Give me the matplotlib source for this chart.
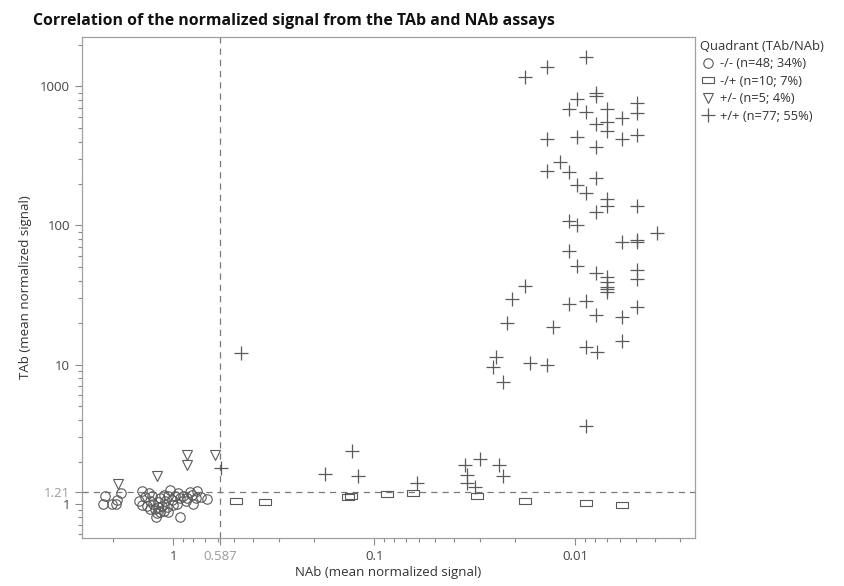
import numpy as np
import matplotlib
matplotlib.use("Agg")
import matplotlib.pyplot as plt
from matplotlib.path import Path
from matplotlib.ticker import FixedLocator, LogLocator, NullFormatter

plt.rcParams['font.family'] = ['Open Sans', 'DejaVu Sans']

# -/- quadrant (circles)
nab_nn = [2.19, 2.23, 2.03, 1.93, 1.83, 1.91, 1.44, 1.48, 1.38, 1.33, 1.31, 1.26,
          1.23, 1.21, 1.22, 1.16, 1.14, 1.12, 1.10, 1.07, 1.04, 1.02, 0.981, 0.962,
          0.926, 0.892, 0.865, 0.926, 0.810, 0.795, 0.771, 0.760, 0.731, 0.682, 1.28, 1.36,
          1.19, 1.08, 1.00, 0.944, 1.06, 1.16, 1.20, 1.31, 1.12, 0.852, 0.826, 1.44]
tab_nn = [1.14, 1.00, 1.00, 0.987, 1.20, 1.06, 1.23, 1.04, 1.12, 1.20, 1.04, 0.987,
          0.913, 0.850, 0.804, 1.09, 0.964, 0.883, 1.04, 1.14, 1.25, 1.06, 1.14, 1.00,
          1.09, 1.14, 1.04, 0.804, 1.16, 1.00, 1.09, 1.23, 1.12, 1.08, 1.14, 0.964,
          1.02, 0.948, 0.975, 1.20, 0.873, 0.873, 0.948, 0.913, 1.16, 1.10, 1.22, 0.975]

# -/+ quadrant (rectangles)
nab_np = [0.488, 0.350, 0.136, 0.131, 0.0868, 0.0644, 0.0307, 0.0178, 0.00887, 0.00588]
tab_np = [1.047, 1.030, 1.119, 1.132, 1.170, 1.184, 1.132, 1.047, 1.003, 0.975]

# +/- quadrant (triangles)
nab_pn = [1.877, 1.201, 0.852, 0.852, 0.620]
tab_pn = [1.381, 1.577, 2.233, 1.892, 2.233]

# +/+ quadrant (plus)
nab_pp = [0.00885, 0.0138, 0.0178, 0.00789, 0.00789, 0.00984, 0.00492, 0.0108, 0.00885,
          0.00693, 0.00492, 0.00588, 0.00789, 0.00693, 0.00693, 0.00984, 0.0138, 0.00588,
          0.00492, 0.00789, 0.0119, 0.0138, 0.0108, 0.00789, 0.00984, 0.00885, 0.00693,
          0.00693, 0.00789, 0.00492, 0.0108, 0.00977, 0.00394, 0.00588, 0.00492, 0.00492,
          0.0108, 0.00977, 0.00789, 0.00693, 0.00693, 0.00693, 0.00693, 0.00492, 0.00492,
          0.0178, 0.0207, 0.0108, 0.00885, 0.00789, 0.00588, 0.00492, 0.0218, 0.0129,
          0.00588, 0.00890, 0.00783, 0.0248, 0.0258, 0.0168, 0.0139, 0.0228, 0.00885,
          0.462, 0.581, 0.1295, 0.176, 0.121, 0.0615, 0.0354, 0.0298, 0.0239, 0.0228,
          0.0347, 0.0347, 0.0316, 0.00693]
tab_pp = [1622, 1375, 1165, 902, 855, 809, 764, 685, 659,
          685, 641, 590, 537, 558, 481, 435, 417, 417,
          448, 365, 288, 248, 244, 219, 196, 172, 154,
          137, 126, 138, 108, 101, 88.8, 76.4, 78.7, 76.0,
          65.9, 51.1, 45.8, 42.4, 39.4, 36.3, 33.4, 47.8, 41.0,
          36.7, 29.5, 27.2, 28.8, 22.7, 21.9, 26.1, 19.8, 18.5,
          14.8, 13.3, 12.4, 11.4, 9.55, 10.2, 9.92, 7.52, 3.61,
          12.2, 1.79, 2.40, 1.63, 1.58, 1.40, 1.89, 2.08, 1.89, 1.58,
          1.60, 1.41, 1.31, 34.8]

labels = ["-/- (n=48; 34%)", "-/+ (n=10; 7%)", "+/- (n=5; 4%)", "+/+ (n=77; 55%)"]
nab_cut = 0.587
tab_cut = 1.21

# wide rectangle marker like the original
rect = Path([(-1, -0.55), (1, -0.55), (1, 0.55), (-1, 0.55), (-1, -0.55)],
            [Path.MOVETO, Path.LINETO, Path.LINETO, Path.LINETO, Path.CLOSEPOLY])

mc = "#5a5a5a"
fig = plt.figure(figsize=(8.45, 5.86), dpi=100)
ax = fig.add_axes([0.0967, 0.0819, 0.7258, 0.855])

ax.plot(nab_nn, tab_nn, "o", ms=6.8, mfc="none", mec=mc, mew=0.8, ls="none", label=labels[0])
ax.plot(nab_np, tab_np, marker=rect, ms=9, mfc="none", mec=mc, mew=0.8, ls="none", label=labels[1])
ax.plot(nab_pn, tab_pn, "v", ms=7.8, mfc="none", mec=mc, mew=0.8, ls="none", label=labels[2])
ax.plot(nab_pp, tab_pp, "+", ms=9.5, mec=mc, mew=0.9, ls="none", label=labels[3])

ax.axvline(nab_cut, color="#7a7a7a", lw=0.9, ls=(0, (5, 4)), zorder=0)
ax.axhline(tab_cut, color="#7a7a7a", lw=0.9, ls=(0, (5, 4)), zorder=0)

ax.set_xscale("log")
ax.set_yscale("log")
ax.set_xlim(2.86, 0.00254)
ax.set_ylim(0.565, 2270)

tick_col = "#444444"
ax.xaxis.set_major_locator(FixedLocator([1, nab_cut, 0.1, 0.01]))
ax.set_xticklabels(["1", "0.587", "0.1", "0.01"])
ax.yaxis.set_major_locator(FixedLocator([1, tab_cut, 10, 100, 1000]))
ax.set_yticklabels(["1", "1.21", "10", "100", "1000"])
ax.xaxis.set_minor_locator(LogLocator(base=10, subs=np.arange(2, 10)))
ax.yaxis.set_minor_locator(LogLocator(base=10, subs=np.arange(2, 10)))
ax.xaxis.set_minor_formatter(NullFormatter())
ax.yaxis.set_minor_formatter(NullFormatter())
ax.tick_params(which="major", length=5, width=0.8, color="#8a8a8a", labelsize=9.5, labelcolor=tick_col)
ax.tick_params(which="minor", length=3, width=0.8, color="#8a8a8a")
ax.get_xticklabels()[1].set_color("#9a9a9a")
ax.get_yticklabels()[1].set_color("#9a9a9a")

for s in ax.spines.values():
    s.set_color("#a0a0a0")
    s.set_linewidth(0.9)

ax.set_xlabel("NAb (mean normalized signal)", fontsize=9.5, color="#333333", labelpad=2)
ax.set_ylabel("TAb (mean normalized signal)", fontsize=9.5, color="#333333", labelpad=6)
fig.text(0.039, 0.965, "Correlation of the normalized signal from the TAb and NAb assays",
         fontsize=11.4, fontweight="bold", color="#111111", va="center", ha="left")

leg = fig.legend(loc="upper left", bbox_to_anchor=(0.815, 0.952), frameon=False,
                 title="Quadrant (TAb/NAb)", fontsize=9.3, title_fontsize=9.4,
                 handletextpad=0.3, handlelength=1.2, labelspacing=0.35,
                 alignment="left", labelcolor="#333333")
leg.get_title().set_color("#333333")

fig.savefig("out.png", dpi=100)
